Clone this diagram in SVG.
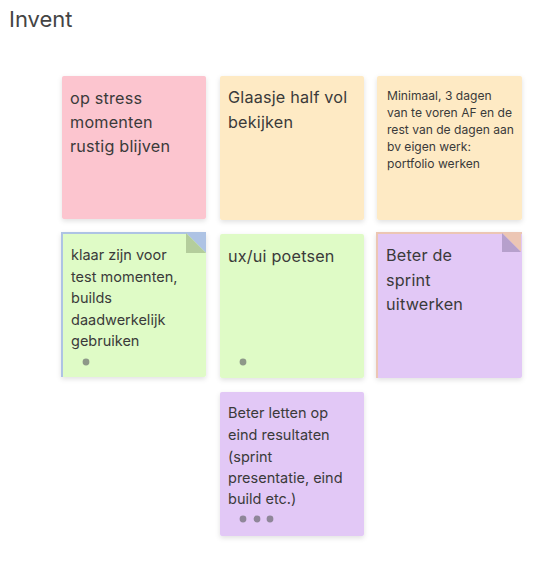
<svg xmlns="http://www.w3.org/2000/svg" width="547" height="562" viewBox="0 0 547 562">
<defs>
<filter id="sh" x="-10%" y="-10%" width="125%" height="130%">
<feDropShadow dx="0" dy="2" stdDeviation="2.5" flood-color="#000" flood-opacity="0.12"/>
</filter>
</defs>
<style>
text{font-family:Inter,"Noto Sans","Liberation Sans",sans-serif;fill:#3a3a3a}
.t16{font-size:16.2px;letter-spacing:0.2px}
.t14{font-size:14.5px}
.t12{font-size:12.1px}
.pink{fill:#fcc5cf}
.yel{fill:#feeac4}
.grn{fill:#dffbc6}
.pur{fill:#e2c8f6}
.dot{fill:#8e9889}
.dotp{fill:#8f8799}
</style>
<rect width="547" height="562" fill="#ffffff"/>
<text x="9" y="27" style="font-size:22px;fill:#444">Invent</text>
<g id="connectors"/>
<g id="n1">
<rect class="pink" x="62" y="76" width="144" height="143" rx="2" filter="url(#sh)"/>
<text class="t16" x="70"><tspan x="70" y="104">op stress</tspan><tspan x="70" y="128">momenten</tspan><tspan x="70" y="152">rustig blijven</tspan></text>
</g>
<g id="n2">
<rect class="yel" x="220" y="76" width="144" height="144" rx="2" filter="url(#sh)"/>
<text class="t16"><tspan x="228" y="103">Glaasje half vol</tspan><tspan x="228" y="128">bekijken</tspan></text>
</g>
<g id="n3">
<rect class="yel" x="377" y="76" width="145" height="144" rx="2" filter="url(#sh)"/>
<text class="t12"><tspan x="387" y="100">Minimaal, 3 dagen</tspan><tspan x="387" y="117">van te voren AF en de</tspan><tspan x="387" y="134">rest van de dagen aan</tspan><tspan x="387" y="151">bv eigen werk:</tspan><tspan x="387" y="168">portfolio werken</tspan></text>
</g>
<g id="n4">
<rect class="grn" x="61" y="232" width="145" height="145" rx="2" filter="url(#sh)"/>
<rect x="61" y="232" width="2" height="145" fill="#aec3e4"/>
<rect x="61" y="232" width="145" height="2" fill="#aec3e4"/>
<polygon points="186,233 206,233 206,253" fill="#aec3e4"/>
<polygon points="186,233 206,253 186,253" fill="#b4cd9c"/>
<text class="t14"><tspan x="71" y="260">klaar zijn voor</tspan><tspan x="71" y="282">test momenten,</tspan><tspan x="71" y="303">builds</tspan><tspan x="71" y="325">daadwerkelijk</tspan><tspan x="71" y="346">gebruiken</tspan></text>
<circle class="dot" cx="86" cy="362" r="3.4"/>
</g>
<g id="n5">
<rect class="grn" x="220" y="234" width="144" height="144" rx="2" filter="url(#sh)"/>
<text class="t16" x="228" y="262">ux/ui poetsen</text>
<circle class="dot" cx="243" cy="362" r="3.4"/>
</g>
<g id="n6">
<rect class="pur" x="376" y="232" width="146" height="146" rx="2" filter="url(#sh)"/>
<rect x="376" y="232" width="2" height="146" fill="#ecc6b4"/>
<rect x="376" y="232" width="146" height="2" fill="#ecc6b4"/>
<polygon points="502,233 521,233 521,252" fill="#ecc6b4"/>
<polygon points="502,233 521,252 502,252" fill="#b6a0cc"/>
<text class="t16"><tspan x="386" y="261">Beter de</tspan><tspan x="386" y="286">sprint</tspan><tspan x="386" y="310">uitwerken</tspan></text>
</g>
<g id="n7">
<rect class="pur" x="220" y="392" width="144" height="144" rx="2" filter="url(#sh)"/>
<text class="t14"><tspan x="228" y="418">Beter letten op</tspan><tspan x="228" y="440">eind resultaten</tspan><tspan x="228" y="462">(sprint</tspan><tspan x="228" y="483">presentatie, eind</tspan><tspan x="228" y="504">build etc.)</tspan></text>
<circle class="dotp" cx="243" cy="519" r="3.4"/>
<circle class="dotp" cx="257" cy="519" r="3.4"/>
<circle class="dotp" cx="270" cy="519" r="3.4"/>
</g>
</svg>
